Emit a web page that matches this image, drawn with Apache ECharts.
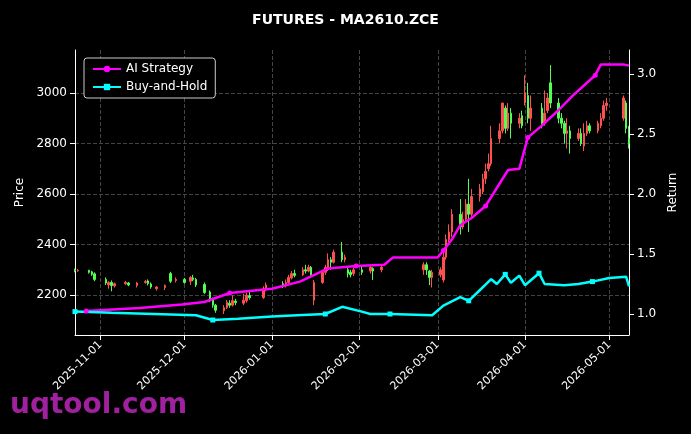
<!DOCTYPE html>
<html><head><meta charset="utf-8">
<script src="https://cdn.jsdelivr.net/npm/echarts@6/dist/echarts.min.js"></script>
<style>html,body{margin:0;background:#000}#c{width:691px;height:434px}</style></head>
<body><div id="c"></div>
<script>
const candles = [
['2025-10-23',2300,2296,2290,2305],['2025-10-24',2296,2298,2292,2303],['2025-10-28',2298,2290,2285,2300],
['2025-10-29',2292,2282,2276,2296],['2025-10-30',2284,2262,2255,2290],['2025-11-03',2262,2248,2240,2270],
['2025-11-04',2240,2250,2225,2255],['2025-11-05',2250,2238,2215,2258],['2025-11-06',2236,2245,2230,2250],
['2025-11-10',2245,2250,2240,2256],['2025-11-11',2248,2240,2235,2252],['2025-11-14',2238,2248,2230,2252],
['2025-11-17',2250,2254,2245,2260],['2025-11-18',2256,2246,2238,2262],['2025-11-19',2244,2232,2225,2250],
['2025-11-21',2225,2232,2218,2236],['2025-11-24',2230,2238,2220,2242],['2025-11-26',2285,2255,2248,2292],
['2025-11-28',2258,2262,2250,2270],['2025-12-01',2262,2250,2245,2268],['2025-12-03',2255,2270,2240,2275],
['2025-12-04',2268,2262,2255,2280],['2025-12-05',2262,2240,2232,2268],['2025-12-08',2242,2210,2205,2250],
['2025-12-10',2212,2180,2172,2218],['2025-12-11',2182,2160,2150,2190],['2025-12-12',2160,2140,2130,2165],
['2025-12-15',2138,2150,2125,2160],['2025-12-16',2150,2172,2145,2180],['2025-12-17',2168,2160,2150,2180],
['2025-12-18',2160,2178,2155,2200],['2025-12-19',2176,2170,2160,2185],['2025-12-22',2168,2180,2160,2205],
['2025-12-23',2178,2200,2170,2210],['2025-12-24',2198,2190,2182,2212],['2025-12-29',2190,2225,2185,2235],
['2025-12-30',2224,2240,2215,2250],['2026-01-05',2245,2236,2228,2255],['2026-01-06',2236,2250,2230,2262],
['2026-01-07',2250,2270,2245,2280],['2026-01-08',2268,2285,2262,2295],['2026-01-09',2285,2278,2270,2300],
['2026-01-12',2280,2300,2275,2310],['2026-01-13',2300,2295,2285,2320],['2026-01-14',2295,2310,2290,2320],
['2026-01-15',2310,2280,2270,2315],['2026-01-16',2180,2250,2160,2260],['2026-01-19',2250,2290,2245,2300],
['2026-01-20',2290,2310,2280,2320],['2026-01-21',2300,2340,2295,2365],['2026-01-22',2340,2330,2300,2350],
['2026-01-23',2330,2370,2325,2380],['2026-01-26',2370,2340,2330,2410],['2026-01-27',2340,2350,2330,2360],
['2026-01-28',2300,2285,2270,2310],['2026-01-29',2290,2280,2270,2300],['2026-01-30',2285,2300,2275,2310],
['2026-02-02',2300,2290,2280,2315],['2026-02-05',2295,2310,2285,2318],['2026-02-06',2305,2295,2260,2310],
['2026-02-09',2300,2310,2290,2320],['2026-02-24',2300,2320,2280,2330],['2026-02-25',2320,2300,2280,2330],
['2026-02-26',2295,2270,2240,2300],['2026-02-27',2270,2290,2230,2300],['2026-03-02',2280,2300,2270,2310],
['2026-03-03',2260,2350,2250,2380],['2026-03-04',2350,2420,2340,2440],['2026-03-05',2420,2450,2410,2480],
['2026-03-06',2450,2520,2430,2540],['2026-03-09',2520,2470,2440,2580],['2026-03-10',2470,2500,2460,2530],
['2026-03-11',2500,2560,2490,2580],['2026-03-12',2560,2520,2450,2660],['2026-03-13',2520,2590,2500,2620],
['2026-03-16',2590,2620,2570,2640],['2026-03-17',2610,2660,2600,2680],['2026-03-18',2660,2690,2640,2720],
['2026-03-19',2700,2720,2690,2760],['2026-03-20',2720,2820,2710,2870],['2026-03-23',2820,2850,2800,2880],
['2026-03-24',2850,2960,2840,2960],['2026-03-25',2940,2860,2840,2950],['2026-03-26',2860,2920,2850,2960],
['2026-03-27',2920,2880,2820,2940],['2026-03-30',2880,2900,2860,2920],['2026-03-31',2910,2870,2860,2930],
['2026-04-01',2960,3000,2950,3070],['2026-04-02',2990,2900,2880,3040],['2026-04-03',2900,2940,2850,2990],
['2026-04-07',2940,2880,2860,2960],['2026-04-08',2880,2920,2870,3010],['2026-04-09',2930,2980,2920,3000],
['2026-04-10',3040,2960,2940,3110],['2026-04-13',2960,2900,2880,2980],['2026-04-14',2900,2880,2860,2920],
['2026-04-15',2880,2840,2800,2890],['2026-04-16',2840,2850,2780,2900],['2026-04-17',2850,2820,2760,2870],
['2026-04-20',2820,2840,2810,2860],['2026-04-21',2840,2800,2790,2860],['2026-04-22',2790,2840,2770,2880],
['2026-04-23',2840,2870,2830,2890],['2026-04-24',2870,2850,2840,2880],['2026-04-27',2850,2880,2840,2890],
['2026-04-28',2870,2900,2860,2920],['2026-04-29',2900,2950,2890,2970],['2026-04-30',2950,2960,2930,2980],
['2026-05-06',2900,2980,2890,2990],['2026-05-07',2960,2860,2840,2970],['2026-05-08',2820,2800,2780,2870]
];
const aiStrategy = [
['2025-10-27',1.025],['2025-11-15',1.05],['2025-11-30',1.08],['2025-12-08',1.1],['2025-12-17',1.175],
['2026-01-01',1.21],['2026-01-11',1.27],['2026-01-21',1.38],['2026-01-31',1.4],['2026-02-10',1.41],
['2026-02-13',1.47],['2026-03-01',1.47],['2026-03-03',1.53],['2026-03-06',1.62],['2026-03-09',1.74],
['2026-03-13',1.8],['2026-03-18',1.9],['2026-03-22',2.05],['2026-03-26',2.2],['2026-03-30',2.21],
['2026-04-02',2.47],['2026-04-07',2.57],['2026-04-13',2.7],['2026-04-18',2.82],['2026-04-26',2.99],
['2026-04-28',3.08],['2026-05-06',3.08],['2026-05-08',3.07]
];
const buyHold = [
['2025-10-23',1.02],['2025-11-05',1.01],['2025-11-20',1.0],['2025-12-05',0.99],['2025-12-11',0.95],
['2025-12-20',0.96],['2026-01-01',0.98],['2026-01-10',0.99],['2026-01-20',1.0],['2026-01-26',1.06],
['2026-02-02',1.02],['2026-02-05',1.0],['2026-02-12',1.0],['2026-02-27',0.99],['2026-03-03',1.07],
['2026-03-09',1.14],['2026-03-12',1.11],['2026-03-16',1.2],['2026-03-20',1.29],['2026-03-22',1.25],
['2026-03-25',1.33],['2026-03-27',1.26],['2026-03-30',1.32],['2026-04-01',1.24],['2026-04-06',1.34],
['2026-04-08',1.25],['2026-04-15',1.24],['2026-04-20',1.25],['2026-04-25',1.27],['2026-05-01',1.3],
['2026-05-07',1.31],['2026-05-08',1.23]
];
const priceTicks = [2200,2400,2600,2800,3000];
const returnTicks = [1.0,1.5,2.0,2.5,3.0];
const chart = echarts.init(document.getElementById('c'));
const font = 'DejaVu Sans';
chart.setOption({
  backgroundColor:'#000',
  animation:false,
  textStyle:{fontFamily:font},
  title:{text:'FUTURES - MA2610.ZCE',left:'center',top:8,textStyle:{color:'#fff',fontSize:14,fontWeight:'bold',fontFamily:font}},
  graphic:[{type:'text',left:10,top:392,style:{text:'uqtool.com',fill:'#a020a0',font:'bold 28px DejaVu Sans'}}],
  legend:{left:84,top:58,orient:'vertical',backgroundColor:'#000',borderColor:'#ccc',borderWidth:1,borderRadius:3,padding:[5,8],itemGap:6,
    textStyle:{color:'#fff',fontSize:12},itemWidth:28,itemHeight:8,data:['AI Strategy','Buy-and-Hold']},
  grid:{left:75,right:62,top:50,bottom:99},
  xAxis:{type:'time',min:'2025-10-23',max:'2026-05-08',splitNumber:7,
    axisLine:{lineStyle:{color:'#fff'}},axisTick:{lineStyle:{color:'#fff'}},
    axisLabel:{color:'#fff',rotate:45,fontSize:11,formatter:'{yyyy}-{MM}-{dd}',hideOverlap:false},
    splitLine:{show:true,lineStyle:{color:'#444',type:'dashed'}}},
  yAxis:[{type:'value',min:2042,max:3170,name:'Price',nameLocation:'middle',nameGap:48,nameTextStyle:{color:'#fff',fontSize:12},
    axisLine:{show:true,lineStyle:{color:'#fff'}},axisTick:{show:true,customValues:priceTicks,lineStyle:{color:'#fff'}},
    axisLabel:{color:'#fff',fontSize:12,customValues:priceTicks,formatter:v=>String(v)},
    splitLine:{show:true,lineStyle:{color:'#444',type:'dashed'}}},
   {type:'value',min:0.825,max:3.2,name:'Return',nameLocation:'middle',nameGap:36,nameRotate:90,nameTextStyle:{color:'#fff',fontSize:12},
    axisLine:{show:true,lineStyle:{color:'#fff'}},axisTick:{show:true,customValues:returnTicks,lineStyle:{color:'#fff'}},
    axisLabel:{color:'#fff',fontSize:12,customValues:returnTicks,formatter:v=>v.toFixed(1)},splitLine:{show:false}}],
  series:[
    {type:'candlestick',name:'Price',data:candles,barWidth:2,
      itemStyle:{color:'#ff5050',color0:'#50ff50',borderColor:'#ff5050',borderColor0:'#50ff50',borderWidth:1}},
    {type:'line',name:'AI Strategy',yAxisIndex:1,data:aiStrategy,color:'#ff00ff',symbol:'circle',symbolSize:(v,p)=>p.dataIndex%4===0?5:0,
      lineStyle:{width:2.5,color:'#ff00ff'},itemStyle:{color:'#ff00ff'}},
    {type:'line',name:'Buy-and-Hold',yAxisIndex:1,data:buyHold,color:'#00ffff',symbol:'rect',symbolSize:(v,p)=>p.dataIndex%4===0?5:0,
      lineStyle:{width:2.5,color:'#00ffff'},itemStyle:{color:'#00ffff'}}
  ]
});
</script></body></html>
